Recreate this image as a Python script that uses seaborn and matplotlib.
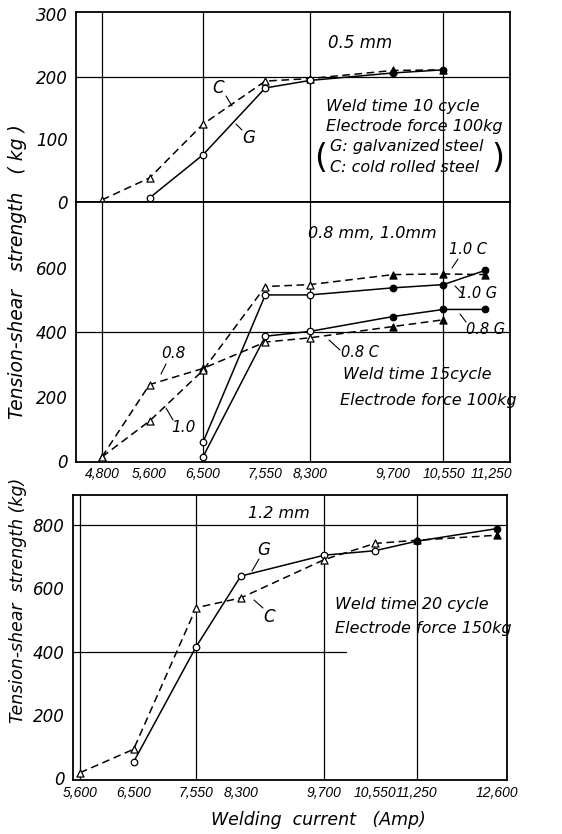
import numpy as np
import matplotlib
matplotlib.use("Agg")
import matplotlib.pyplot as plt
import matplotlib.transforms as mtrans
import seaborn as sns

# ---------------- data ----------------
ticks_top = [4800, 5600, 6500, 7550, 8300, 9700, 10550, 11250]
ticks_top_lbl = ["4,800", "5,600", "6,500", "7,550", "8,300", "9,700", "10,550", "11,250"]
ticks_bot = [5600, 6500, 7550, 8300, 9700, 10550, 11250, 12600]
ticks_bot_lbl = ["5,600", "6,500", "7,550", "8,300", "9,700", "10,550", "11,250", "12,600"]

# 0.5 mm
c05_x = [4800, 5600, 6500, 7550, 8300, 9700, 10550]
c05_y = [3, 38, 124, 193, 197, 210, 211]
c05_f = [0, 0, 0, 0, 0, 1, 1]
g05_x = [5600, 6500, 7550, 8300, 9700, 10550]
g05_y = [6, 75, 182, 194, 206, 211]
g05_f = [0, 0, 0, 0, 1, 1]

# 0.8 mm / 1.0 mm
c08_x = [4800, 5600, 6500, 7550, 8300, 9700, 10550]
c08_y = [13, 237, 287, 369, 382, 417, 438]
c08_f = [0, 0, 0, 0, 0, 1, 1]
c10_x = [4800, 5600, 6500, 7550, 8300, 9700, 10550, 11250]
c10_y = [13, 124, 281, 541, 547, 578, 580, 578]
c10_f = [0, 0, 0, 0, 0, 1, 1, 1]
g10_x = [6500, 7550, 8300, 9700, 10550, 11250]
g10_y = [58, 515, 515, 537, 547, 591]
g10_f = [0, 0, 0, 1, 1, 1]
g08_x = [6500, 7550, 8300, 9700, 10550, 11250]
g08_y = [13, 387, 402, 448, 470, 470]
g08_f = [0, 0, 0, 1, 1, 1]

# 1.2 mm
g12_x = [6500, 7550, 8300, 9700, 10550, 11250, 12600]
g12_y = [52, 416, 639, 705, 719, 749, 789]
g12_f = [0, 0, 0, 0, 0, 1, 1]
c12_x = [5600, 6500, 7550, 8300, 9700, 10550, 11250, 12600]
c12_y = [18, 92, 539, 570, 691, 742, 752, 768]
c12_f = [0, 0, 0, 0, 0, 0, 1, 1]

# ---------------- style ----------------
sns.set_style("white")
plt.rcParams["font.family"] = ["DejaVu Sans"]
plt.rcParams["font.style"] = "italic"
plt.rcParams["axes.linewidth"] = 1.3
plt.rcParams["text.color"] = "black"
plt.rcParams["xtick.color"] = "black"
plt.rcParams["ytick.color"] = "black"
plt.rcParams["axes.labelcolor"] = "black"
plt.rcParams["axes.edgecolor"] = "black"

W, H = 562, 834
fig = plt.figure(figsize=(W / 100, H / 100), dpi=100)

def axrect(l, t, r, b):
    return [l / W, 1 - b / H, (r - l) / W, (b - t) / H]

ax1 = fig.add_axes(axrect(76, 11.7, 510, 201.7))
ax2 = fig.add_axes(axrect(76, 201.7, 510, 461.7))
ax3 = fig.add_axes(axrect(73, 495, 507, 780))

DASH = (0, (5, 3))

def series(ax, x, y, f, dashed, marker):
    ls = DASH if dashed else "-"
    sns.lineplot(x=x, y=y, ax=ax, color="black", lw=1.1, linestyle=ls,
                 sort=False, estimator=None, legend=False)
    x = np.asarray(x); y = np.asarray(y); f = np.asarray(f).astype(bool)
    ms = 22 if marker == "o" else 26
    if (~f).any():
        sns.scatterplot(x=x[~f], y=y[~f], ax=ax, marker=marker, s=ms,
                        color="white", edgecolor="black", linewidth=0.9,
                        zorder=5, legend=False)
    if f.any():
        sns.scatterplot(x=x[f], y=y[f], ax=ax, marker=marker, s=ms,
                        color="black", edgecolor="black", linewidth=0.9,
                        zorder=5, legend=False)

series(ax1, c05_x, c05_y, c05_f, True, "^")
series(ax1, g05_x, g05_y, g05_f, False, "o")

series(ax2, c08_x, c08_y, c08_f, True, "^")
series(ax2, c10_x, c10_y, c10_f, True, "^")
series(ax2, g10_x, g10_y, g10_f, False, "o")
series(ax2, g08_x, g08_y, g08_f, False, "o")

series(ax3, g12_x, g12_y, g12_f, False, "o")
series(ax3, c12_x, c12_y, c12_f, True, "^")

# limits
ax1.set_xlim(4362, 11670); ax1.set_ylim(0, 304)
ax2.set_xlim(4362, 11670); ax2.set_ylim(-2, 804)
ax3.set_xlim(5483, 12768); ax3.set_ylim(-5, 895)

# grid lines (sparse, as in the original)
for ax in (ax1, ax2):
    for gx in (4800, 6500, 8300, 10550):
        ax.axvline(gx, color="black", lw=0.9, zorder=1)
ax1.axhline(200, color="black", lw=0.9, zorder=1)
ax2.axhline(400, color="black", lw=0.9, zorder=1)
for gx in (5600, 7550, 9700, 11250):
    ax3.axvline(gx, color="black", lw=0.9, zorder=1)
ax3.axhline(800, color="black", lw=0.9, zorder=1)
ax3.axhline(400, xmin=0, xmax=0.63, color="black", lw=0.9, zorder=1)

# ticks
ax1.set_yticks([0, 100, 200, 300]); ax1.set_yticklabels(["0", "100", "200", "300"])
ax2.set_yticks([0, 200, 400, 600]); ax2.set_yticklabels(["0", "200", "400", "600"])
ax3.set_yticks([0, 200, 400, 600, 800]); ax3.set_yticklabels(["0", "200", "400", "600", "800"])
ax1.set_xticks([])
ax2.set_xticks(ticks_top); ax2.set_xticklabels(ticks_top_lbl)
ax3.set_xticks(ticks_bot); ax3.set_xticklabels(ticks_bot_lbl)
for ax in (ax1, ax2, ax3):
    ax.tick_params(axis="y", length=0, labelsize=12, pad=6)
    ax.tick_params(axis="x", length=0, labelsize=10, pad=4)
    for t in ax.get_xticklabels():
        t.set_fontfamily(["Liberation Sans", "DejaVu Sans"])
        t.set_fontsize(10)
ax3.tick_params(axis="x", direction="in", length=5, width=0.9)
# the last label of the upper scale sits slightly right of its line
lbl = ax2.get_xticklabels()[-1]
lbl.set_transform(lbl.get_transform() + mtrans.ScaledTranslation(6 / 100, 0, fig.dpi_scale_trans))

for ax in (ax1, ax2, ax3):
    ax.set_xlabel(""); ax.set_ylabel("")

# axis titles
fig.text(18 / W, 1 - 272 / H, "Tension-shear   strength   ( kg )", rotation=90,
         ha="center", va="center", fontsize=13.5)
fig.text(18 / W, 1 - 600 / H, "Tension-shear  strength (kg)", rotation=90,
         ha="center", va="center", fontsize=12.5)
fig.text(318 / W, 1 - 820 / H, "Welding  current   (Amp)", ha="center",
         va="center", fontsize=12.5)

def label(txt, xy, size=12, ha="left"):
    fig.text(xy[0] / W, 1 - xy[1] / H, txt, ha=ha, va="center", fontsize=size)

def lead(txt, txy, a, b, size=12, ha="center"):
    fig.text(txy[0] / W, 1 - txy[1] / H, txt, ha=ha, va="center", fontsize=size)
    fig.add_artist(plt.Line2D([a[0] / W, b[0] / W], [1 - a[1] / H, 1 - b[1] / H],
                              color="black", lw=0.8))

# panel 1 texts
label("0.5 mm", (328, 43))
label("Weld time 10 cycle", (326, 106), 11.5)
label("Electrode force 100kg", (326, 126), 11.5)
label("G: galvanized steel", (330, 147), 11.5)
label("C: cold rolled steel", (330, 168), 11.5)
fig.text(321 / W, 1 - 158 / H, "(", fontsize=24, ha="center", va="center", style="normal")
fig.text(498 / W, 1 - 158 / H, ")", fontsize=24, ha="center", va="center", style="normal")
lead("C", (218, 88), (226, 96), (232, 106))
lead("G", (249, 138), (242, 130), (236, 124))

# panel 2 texts
label("0.8 mm, 1.0mm", (308, 233), 11.5)
lead("1.0 C", (468, 250), (458, 259), (452, 268), 10.5)
lead("1.0 G", (478, 293), (463, 294), (455, 286), 10.5)
lead("0.8 G", (486, 329), (466, 322), (460, 314), 10.5)
lead("0.8 C", (360, 352), (340, 350), (329, 340), 10.5)
lead("0.8", (173, 354), (166, 364), (161, 374), 11)
lead("1.0", (183, 428), (173, 420), (166, 408), 11)
label("Weld time 15cycle", (343, 374), 11.5)
label("Electrode force 100kg", (340, 400), 11.5)

# panel 3 texts
label("1.2 mm", (248, 514), 11.5)
lead("G", (264, 550), (259, 559), (252, 571))
lead("C", (269, 617), (263, 608), (254, 600))
label("Weld time 20 cycle", (335, 605), 11.5)
label("Electrode force 150kg", (335, 628), 11.5)

fig.savefig("out.png", dpi=100)
